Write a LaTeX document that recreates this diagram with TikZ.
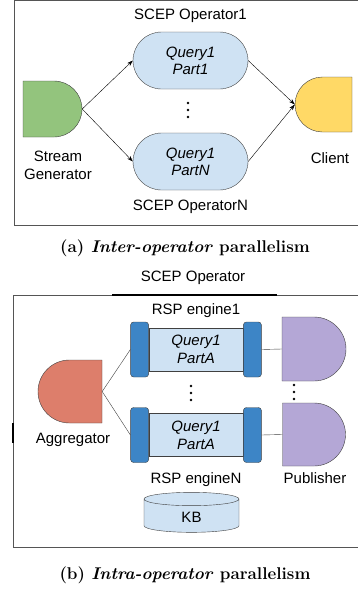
\documentclass[tikz,border=0pt]{standalone}
\usepackage{fontspec}
\setsansfont{Liberation Sans}
\usepackage{tikz}
\usetikzlibrary{shapes, arrows.meta, positioning}

\definecolor{lineGray}{HTML}{404040}
\definecolor{frameGray}{HTML}{555555}
\definecolor{genGreen}{HTML}{93C47D}
\definecolor{clientYellow}{HTML}{FFD966}
\definecolor{queryBlue}{HTML}{CFE2F3}
\definecolor{capBlue}{HTML}{3D85C6}
\definecolor{aggRed}{HTML}{DD7E6B}
\definecolor{pubPurple}{HTML}{B4A7D6}

\begin{document}
\begin{tikzpicture}[x=1pt, y=-1pt, >={Stealth[length=6pt, width=4pt]},
    every node/.style={font=\sffamily\fontsize{15}{16}\selectfont},
    nametext/.style={align=center, inner sep=0pt, font=\sffamily\fontsize{15}{18}\selectfont},
    pill/.style={rounded rectangle, draw=lineGray, fill=queryBlue, align=center, inner sep=0pt, minimum width=115pt, minimum height=57pt, font=\sffamily\itshape\fontsize{15}{17}\selectfont},
    srcshape/.style={rounded rectangle, rounded rectangle west arc=none, draw=lineGray, inner sep=0pt},
    sinkshape/.style={rounded rectangle, rounded rectangle east arc=none, draw=lineGray, inner sep=0pt},
    engine/.style={rectangle, draw=lineGray, fill=queryBlue, align=center, inner sep=0pt, minimum width=94pt, minimum height=43pt, font=\sffamily\itshape\fontsize{15}{18}\selectfont},
    endcap/.style={rectangle, rounded corners=3pt, draw=lineGray, fill=capBlue, inner sep=0pt, minimum width=18pt, minimum height=55pt},
    dotmark/.style={circle, fill=black, inner sep=0pt, minimum size=2.6pt},
    caption/.style={inner sep=0pt, font=\rmfamily\bfseries\fontsize{17}{19}\selectfont}]

    \useasboundingbox (0,0) rectangle (358,592);

    % (a) inter-operator
    \draw[frameGray] (14,0.5) rectangle (372,225);
    \node (part1) [pill] at (190.5,60.5) {Query1\\Part1};
    \node (partN) [pill] at (190.5,161.5) {Query1\\PartN};
    \node (op1) [above=6pt of part1] {SCEP Operator1};
    \node (opN) [below=6pt of partN] {SCEP OperatorN};
    \foreach \k in {-7,0,7}
        \node [dotmark] at (188,110+\k) {};

    \node (gen) [srcshape, fill=genGreen, minimum width=59pt, minimum height=56pt] at (52.5,109) {};
    \node (genlbl) [nametext] at (58,165) {Stream\\Generator};
    \node (client) [sinkshape, fill=clientYellow, minimum width=57pt, minimum height=55pt] at (323.5,104.5) {};
    \node (clientlbl) [nametext] at (330,158) {Client};

    \draw [->] (gen.east) -- (part1.west);
    \draw [->] (gen.east) -- (partN.west);
    \draw [->] (part1.east) -- (client.west);
    \draw [->] (partN.east) -- (client.west);

    \node (capa) [caption] at (185,248) {(a) \textit{Inter-operator} parallelism};

    % (b) intra-operator
    \node (scep) at (193,278) {SCEP Operator};
    \draw[frameGray] (13,295) rectangle (372,547);
    \draw[black, line width=1.2pt] (112,295) -- (277,295);
    \draw[black, line width=1.2pt] (13,423) -- (13,443);

    \node (eng1) [engine] at (196,349.5) {Query1\\PartA};
    \node (eng1l) [endcap, left=0pt of eng1] {};
    \node (eng1r) [endcap, right=0pt of eng1] {};
    \node (rsp1) [above=1pt of eng1l.north -| eng1] {RSP engine1};

    \node (engN) [engine] at (196,435) {Query1\\PartA};
    \node (engNl) [endcap, left=0pt of engN] {};
    \node (engNr) [endcap, right=0pt of engN] {};
    \node (rspN) [below=6pt of engNl.south -| engN] {RSP engineN};
    \foreach \k in {-7,0,7}
        \node [dotmark] at (191,393+\k) {};

    \node (agg) [sinkshape, fill=aggRed, minimum width=64pt, minimum height=63pt] at (70,391.5) {};
    \node (agglbl) [nametext] at (73,440) {Aggregator};

    \node (pub1) [srcshape, fill=pubPurple, minimum width=62pt, minimum height=64pt] at (314,349) {};
    \node (pubN) [srcshape, fill=pubPurple, minimum width=62pt, minimum height=63pt] at (314,434.5) {};
    \foreach \k in {-7,0,7}
        \node [dotmark] at (294,392+\k) {};
    \node (publbl) [nametext] at (315,478) {Publisher};

    \draw [lineGray] (agg.east) -- (eng1l.west);
    \draw [lineGray] (agg.east) -- (engNl.west);
    \draw [lineGray] (eng1r.east) -- (pub1.west);
    \draw [lineGray] (engNr.east) -- (pubN.west);

    \node (kb) [cylinder, shape border rotate=90, aspect=0.5, draw=lineGray, fill=queryBlue, minimum width=95pt, minimum height=40pt] at (191.5,517) {KB};

    \node (capb) [caption] at (185,575) {(b) \textit{Intra-operator} parallelism};

\end{tikzpicture}
\end{document}
